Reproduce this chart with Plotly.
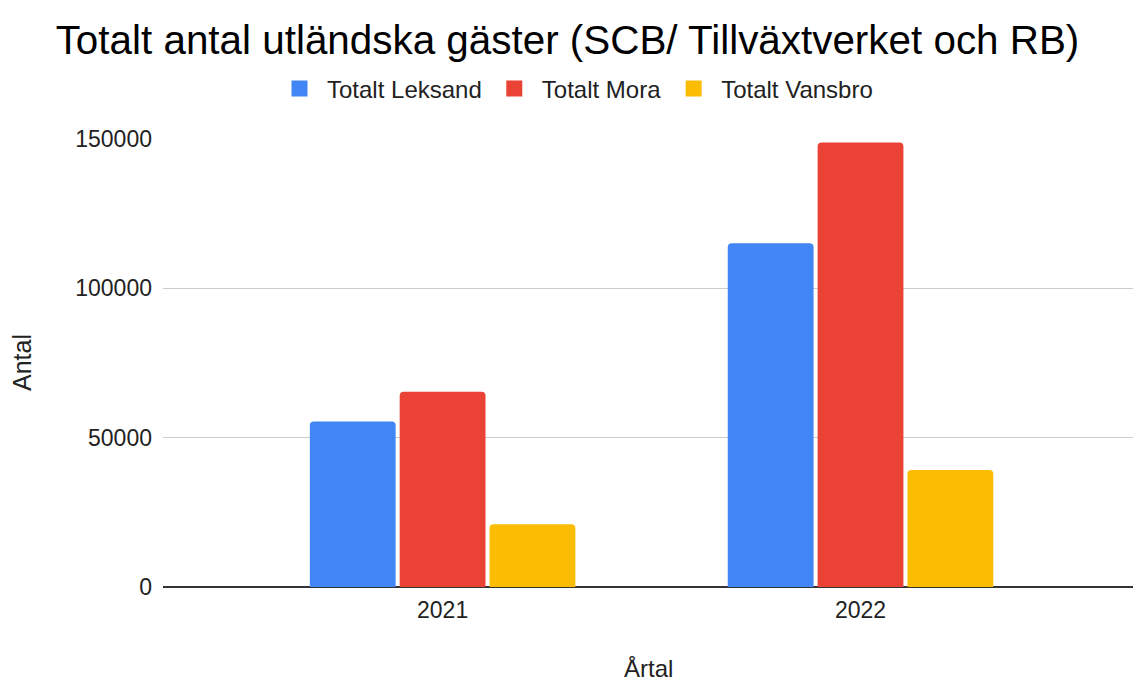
import plotly.graph_objects as go

years = ["2021", "2022"]
leksand = [55400, 115100]
mora = [65400, 148800]
vansbro = [21000, 39200]
series_names = ["Totalt Leksand", "Totalt Mora", "Totalt Vansbro"]
colors = ["#4285F4", "#EA4335", "#FBBC04"]
y_ticks = [0, 50000, 100000, 150000]

W, H = 1135, 681
L, R, T, B = 163, 2, 139, 94
plot_w = W - L - R
plot_h = H - T - B
FONT = "Liberation Sans, Arial, Helvetica, sans-serif"
TXT = "#222222"

fig = go.Figure()
for name, vals, c in zip(series_names, [leksand, mora, vansbro], colors):
    fig.add_trace(go.Bar(x=years, y=vals, name=name, legendgroup=name, showlegend=False,
                         marker=dict(color=c, line=dict(width=0), cornerradius=4)))
# legend entries with larger square swatches
for name, c in zip(series_names, colors):
    fig.add_trace(go.Scatter(x=[None], y=[None], mode="markers", name=name, legendgroup=name,
                             marker=dict(symbol="square", size=16, color=c), showlegend=True))

fig.update_layout(
    width=W, height=H,
    margin=dict(l=L, r=R, t=T, b=B, autoexpand=False),
    plot_bgcolor="white", paper_bgcolor="white",
    font=dict(family=FONT, color=TXT, size=23),
    barmode="group", bargap=0.355, bargroupgap=0.045,
    title=dict(text="Totalt antal utländska gäster (SCB/ Tillväxtverket och RB)",
               x=0.5, xanchor="center", xref="container",
               y=1 - 40 / H, yanchor="middle", yref="container",
               font=dict(size=40.4, color="#000000", family=FONT)),
    legend=dict(orientation="h", xref="container", x=575 / W, xanchor="center",
                yref="container", y=1 - 89 / H, yanchor="middle",
                font=dict(size=24, color=TXT, family=FONT), traceorder="normal",
                itemsizing="trace", itemwidth=45),
    showlegend=True,
)

fig.update_xaxes(type="category", range=[-0.669, 1.652], showgrid=False, showline=False,
                 ticks="", ticklabelstandoff=7, tickfont=dict(size=23, color=TXT))
fig.update_yaxes(range=[0, 150000], tickvals=y_ticks, ticktext=[str(v) for v in y_ticks],
                 showgrid=True, gridcolor="#CCCCCC", gridwidth=1, zeroline=True,
                 zerolinecolor="#333333", zerolinewidth=1.5, showline=False, ticks="",
                 ticklabelstandoff=10, tickfont=dict(size=23, color=TXT))

fig.add_annotation(text="Antal", xref="paper", x=(22 - L) / plot_w, xanchor="center",
                   yref="paper", y=0.5, yanchor="middle", textangle=-90,
                   showarrow=False, font=dict(size=25, color=TXT, family=FONT))
fig.add_annotation(text="Årtal", xref="paper", x=0.5, xanchor="center",
                   yref="paper", y=-(668 - (H - B)) / plot_h, yanchor="middle",
                   showarrow=False, font=dict(size=24, color=TXT, family=FONT))

fig.write_html("out.html", config={"displayModeBar": False},
               post_script="document.body.style.margin='0';")
